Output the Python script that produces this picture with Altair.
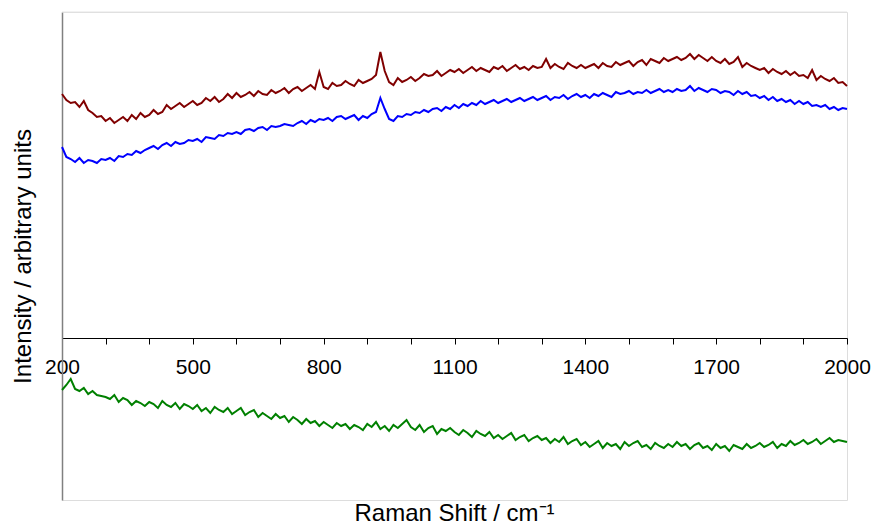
import altair as alt
import pandas as pd

# Raman shift grid (cm^-1)
shift = list(range(200, 2001, 10))

# Intensities (arbitrary units)
red = [
    244, 238, 235, 236, 231, 237, 228, 225, 221, 222,
    217, 220, 215, 218, 221, 217, 223, 219, 225, 221,
    223, 228, 224, 226, 233, 229, 232, 235, 231, 234,
    237, 233, 235, 240, 237, 241, 236, 239, 244, 240,
    245, 241, 243, 246, 242, 247, 244, 243, 248, 245,
    247, 250, 245, 249, 251, 247, 250, 253, 249, 266,
    251, 249, 255, 252, 253, 257, 254, 252, 258, 255,
    257, 259, 263, 286, 267, 256, 253, 260, 256, 258,
    261, 257, 260, 264, 262, 263, 267, 262, 265, 268,
    266, 269, 265, 268, 271, 267, 270, 268, 266, 271,
    269, 272, 267, 270, 273, 269, 271, 268, 272, 270,
    271, 279, 270, 274, 271, 269, 275, 272, 270, 273,
    270, 272, 274, 270, 275, 272, 271, 276, 273, 275,
    277, 272, 276, 278, 273, 279, 277, 275, 280, 277,
    279, 281, 278, 280, 284, 279, 283, 280, 277, 281,
    277, 275, 279, 274, 276, 281, 271, 275, 272, 270,
    268, 270, 265, 269, 266, 264, 267, 263, 266, 262,
    263, 260, 268, 258, 262, 259, 257, 260, 255, 256,
    252,
]

blue = [
    191, 181, 179, 176, 180, 175, 178, 177, 175, 179,
    178, 180, 177, 182, 181, 184, 183, 187, 185, 188,
    190, 192, 189, 193, 195, 192, 196, 194, 195, 198,
    197, 199, 196, 201, 200, 199, 203, 202, 205, 204,
    206, 204, 208, 209, 207, 210, 211, 208, 212, 211,
    212, 214, 213, 212, 215, 217, 214, 218, 216, 219,
    218, 220, 217, 221, 222, 219, 221, 223, 218, 222,
    220, 224, 226, 240, 229, 219, 217, 222, 221, 224,
    223, 226, 225, 228, 226, 229, 230, 227, 231, 229,
    233, 230, 234, 232, 235, 233, 237, 234, 236, 238,
    235, 237, 239, 236, 238, 240, 237, 239, 241, 238,
    240, 242, 238, 241, 240, 243, 239, 242, 244, 241,
    243, 240, 244, 242, 245, 243, 241, 246, 244, 245,
    247, 244, 246, 245, 248, 245, 247, 249, 246, 248,
    246, 249, 247, 248, 252, 247, 250, 248, 246, 249,
    248, 245, 247, 246, 243, 247, 244, 246, 242, 243,
    240, 242, 238, 241, 237, 239, 236, 238, 234, 237,
    234, 236, 232, 233, 231, 233, 229, 231, 228, 230,
    229,
]

green = [
    -52, -47, -41, -51, -53, -50, -56, -53, -57, -58,
    -59, -61, -57, -64, -60, -62, -67, -63, -65, -68,
    -64, -66, -70, -63, -67, -69, -65, -71, -66, -68,
    -71, -67, -73, -70, -75, -69, -72, -74, -70, -76,
    -73, -70, -77, -74, -72, -79, -75, -78, -81, -76,
    -80, -78, -84, -79, -82, -86, -81, -85, -83, -88,
    -84, -87, -90, -85, -88, -86, -91, -87, -89, -92,
    -86, -89, -84, -91, -88, -93, -87, -90, -86, -82,
    -89, -92, -87, -94, -90, -88, -96, -91, -93, -90,
    -94, -97, -92, -95, -99, -93, -96, -98, -94, -100,
    -97, -101, -98, -95, -102, -99, -97, -103, -100, -98,
    -102, -100, -105, -101, -104, -99, -106, -103, -101, -107,
    -104, -109, -106, -103, -110, -105, -108, -106, -111, -104,
    -108, -105, -103, -109, -107, -111, -105, -108, -110, -106,
    -109, -104, -108, -106, -111, -107, -105, -110, -108, -112,
    -106, -110, -108, -113, -107, -109, -111, -106, -110, -108,
    -105, -109, -107, -104, -110, -106, -108, -103, -107, -105,
    -102, -106, -104, -101, -106, -103, -100, -104, -102, -103,
    -104,
]

series_names = ["Spectrum 1", "Spectrum 2", "Spectrum 3"]
series_colors = ["#800000", "#0000ff", "#008000"]
x_ticks = list(range(200, 2001, 100))
y_min, y_max = -162, 326

rows = []
for name, vals in zip(series_names, [red, blue, green]):
    for s, v in zip(shift, vals):
        rows.append({"series": name, "shift": s, "intensity": v})
df = pd.DataFrame(rows)

FONT = "Liberation Sans"

lines = alt.Chart(df).mark_line(strokeWidth=2, interpolate="linear").encode(
    x=alt.X(
        "shift:Q",
        scale=alt.Scale(domain=[200, 2000], nice=False, zero=False),
        axis=alt.Axis(
            values=x_ticks,
            labelExpr="(datum.value - 200) % 300 == 0 ? datum.label : ''",
            format="d",
            offset=-162,
            grid=False,
            domainColor="#000000",
            tickColor="#000000",
            tickSize=6,
            labelFont=FONT,
            labelFontSize=21,
            labelColor="#000000",
            labelPadding=12,
            labelFlush=False,
            labelOverlap=False,
            title=None,
        ),
    ),
    y=alt.Y(
        "intensity:Q",
        scale=alt.Scale(domain=[y_min, y_max], nice=False, zero=False),
        axis=alt.Axis(
            grid=False,
            ticks=False,
            labels=False,
            domainColor="#808080",
            domainWidth=1.5,
            title="Intensity / arbitrary units",
            titleFont=FONT,
            titleFontSize=24,
            titleFontWeight="normal",
            titleColor="#000000",
            titlePadding=27,
        ),
    ),
    color=alt.Color(
        "series:N",
        scale=alt.Scale(domain=series_names, range=series_colors),
        legend=None,
    ),
    detail="series:N",
)

top_line = alt.Chart(pd.DataFrame({"y": [y_max]})).mark_rule(
    color="#e4e4e4", strokeWidth=1
).encode(y=alt.Y("y:Q"))

chart = alt.layer(top_line, lines).properties(
    width=785,
    height=488,
    autosize=alt.AutoSizeParams(type="none"),
    padding={"left": 62, "top": 12, "right": 27, "bottom": 26},
    title=alt.TitleParams(
        "Raman Shift / cm⁻¹",
        orient="bottom",
        anchor="middle",
        font=FONT,
        fontSize=24,
        fontWeight="normal",
        color="#000000",
        offset=2,
    ),
).configure_view(stroke=None).configure(background="white")

chart.save("out.html", embed_options={"renderer": "svg", "actions": False})
